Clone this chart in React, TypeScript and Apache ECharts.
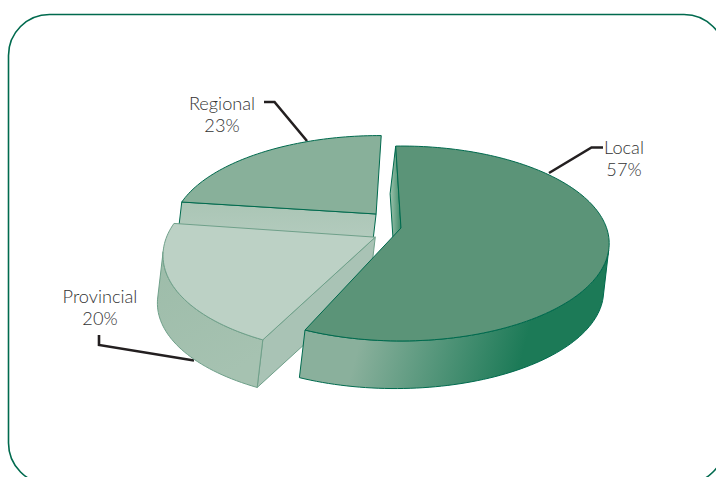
import React, { useEffect, useRef } from "react";
import * as echarts from "echarts";

const categories = ["Local", "Provincial", "Regional"];
const shares = [57, 20, 23];

// view geometry of the tilted pie
const CENTER_X = 402;
const CENTER_Y = 228;
const RADIUS_X = 205.6;
const RADIUS_Y = 95;
const PERSPECTIVE = 0.159;
const EXTRUDE_X = -5.6;
const EXTRUDE_Y = 47.6;
const START_ANGLE = -1.75;

const explode = [[-0.005, 0], [-0.128, 0.095], [-0.129, -0.151]];
const spin = [0, 2.8, 2.3];
const drawOrder = [30, 20, 10];

const topFill = ["#5b9478", "#bcd1c5", "#88b09a"];
const edgeColor = ["#006a4e", "#6fa08a", "#006a4e"];
const DARK = "#1c7a57";

const labelAnchors = [[624, 158], [100, 307], [222, 114]];
const leaders = [
  [[603, 147.5], [591.5, 147.5], [549, 173]],
  [[99, 335], [99, 345], [194, 360.5]],
  [[264, 102], [274.5, 102], [307, 141]],
];

const linear = (x: number, y: number, x2: number, y2: number, stops: [number, string][]) =>
  new echarts.graphic.LinearGradient(x, y, x2, y2, stops.map(([offset, color]) => ({ offset, color })));

function project(u: number, v: number): [number, number] {
  const w = 1 - PERSPECTIVE * v;
  return [CENTER_X + (RADIUS_X * u) / w, CENTER_Y + (RADIUS_Y * v) / w];
}

function rimPoint(deg: number, off: number[]): [number, number] {
  const r = (deg * Math.PI) / 180;
  return project(Math.sin(r) + off[0], -Math.cos(r) + off[1]);
}

function arc(from: number, to: number, off: number[]): [number, number][] {
  const n = Math.max(2, Math.ceil(Math.abs(to - from) / 1.5));
  const pts: [number, number][] = [];
  for (let i = 0; i <= n; i++) pts.push(rimPoint(from + ((to - from) * i) / n, off));
  return pts;
}

const down = (pts: [number, number][]): [number, number][] =>
  pts.map(([x, y]) => [x + EXTRUDE_X, y + EXTRUDE_Y]);

// the part of a rim whose outer wall faces the viewer
function facing(rim: [number, number][]): [number, number][] {
  return rim.filter((p, k) => {
    const a = rim[Math.max(0, k - 1)];
    const b = rim[Math.min(rim.length - 1, k + 1)];
    return EXTRUDE_X * (b[1] - a[1]) - EXTRUDE_Y * (b[0] - a[0]) > 0;
  });
}

function renderSlice(params: any, api: any) {
  const i: number = params.dataIndex;
  const total = shares.reduce((a, b) => a + b, 0);
  const before = shares.slice(0, i).reduce((a, b) => a + b, 0);
  const a0 = START_ANGLE + spin[i] + (before / total) * 360;
  const a1 = a0 + (api.value(0) / total) * 360;
  const off = explode[i];
  const apex = project(off[0], off[1]);
  const rim = arc(a0, a1, off);
  const z = drawOrder[i];
  const stroke = edgeColor[i];
  const face = (points: [number, number][], fill: any, dz: number) => ({
    type: "polygon",
    z2: z + dz,
    shape: { points },
    style: { fill, stroke, lineWidth: 1, lineJoin: "round" },
  });
  const wall = (pts: [number, number][]) => [...pts, ...down(pts).reverse()];
  const children: any[] = [];

  if (i === 0) {
    const startEdge: [number, number][] = [rim[0], apex];
    children.push(
      face(wall(startEdge), linear(0, 0, 1, 0, [[0, "#9cc2ac"], [1, "#3f8a69"]]), 0),
      face(
        wall(facing(rim)),
        linear(0, 0, 1, 0.12, [[0, "#8ab09c"], [0.27, "#8ab09c"], [0.8, DARK], [1, DARK]]),
        1
      )
    );
  } else if (i === 1) {
    const cut: [number, number][] = [rim[0], apex];
    children.push(
      face(wall(cut), "#a9c3b5", 0),
      face(wall(facing(rim)), linear(0, 0, 0.45, 1, [[0, "#9dbca9"], [1, "#a6c2b1"]]), 1)
    );
  } else {
    const cut: [number, number][] = [rim[0], apex];
    children.push(face(wall(cut), linear(0, 0, 0, 1, [[0, "#aac5b5"], [1, "#b9cfc3"]]), 0));
  }
  children.push(face([apex, ...rim], topFill[i], 2));
  return { type: "group", children };
}

export default function App() {
  const ref = useRef<HTMLDivElement>(null);
  useEffect(() => {
    document.body.style.margin = "0";
    const chart = echarts.init(ref.current!, undefined, { renderer: "svg" });
    chart.setOption({
      animation: false,
      backgroundColor: "#ffffff",
      graphic: [
        {
          type: "rect",
          silent: true,
          shape: { x: 8.5, y: 14.5, width: 716.5, height: 469.5, r: 41 },
          style: { fill: "none", stroke: "#006a4e", lineWidth: 1.6 },
        },
        ...leaders.map((points) => ({
          type: "polyline",
          silent: true,
          shape: { points },
          style: { fill: "none", stroke: "#231f20", lineWidth: 2.6, lineJoin: "miter" },
        })),
        ...categories.map((name, i) => ({
          type: "text",
          silent: true,
          x: labelAnchors[i][0],
          y: labelAnchors[i][1],
          style: {
            text: `${name}\n${shares[i]}%`,
            fill: "#333333",
            font: '300 18.2px Lato, "Open Sans", sans-serif',
            lineHeight: 22,
            align: "center",
            verticalAlign: "middle",
          },
        })),
      ],
      series: [
        {
          type: "custom",
          coordinateSystem: "none",
          silent: true,
          clip: false,
          renderItem: renderSlice,
          data: shares.map((value, i) => ({ name: categories[i], value: [value] })),
        },
      ],
    });
    return () => chart.dispose();
  }, []);
  return <div ref={ref} style={{ position: "fixed", left: 0, top: 0, width: 716, height: 477, opacity: 0.999 }} />;
}
